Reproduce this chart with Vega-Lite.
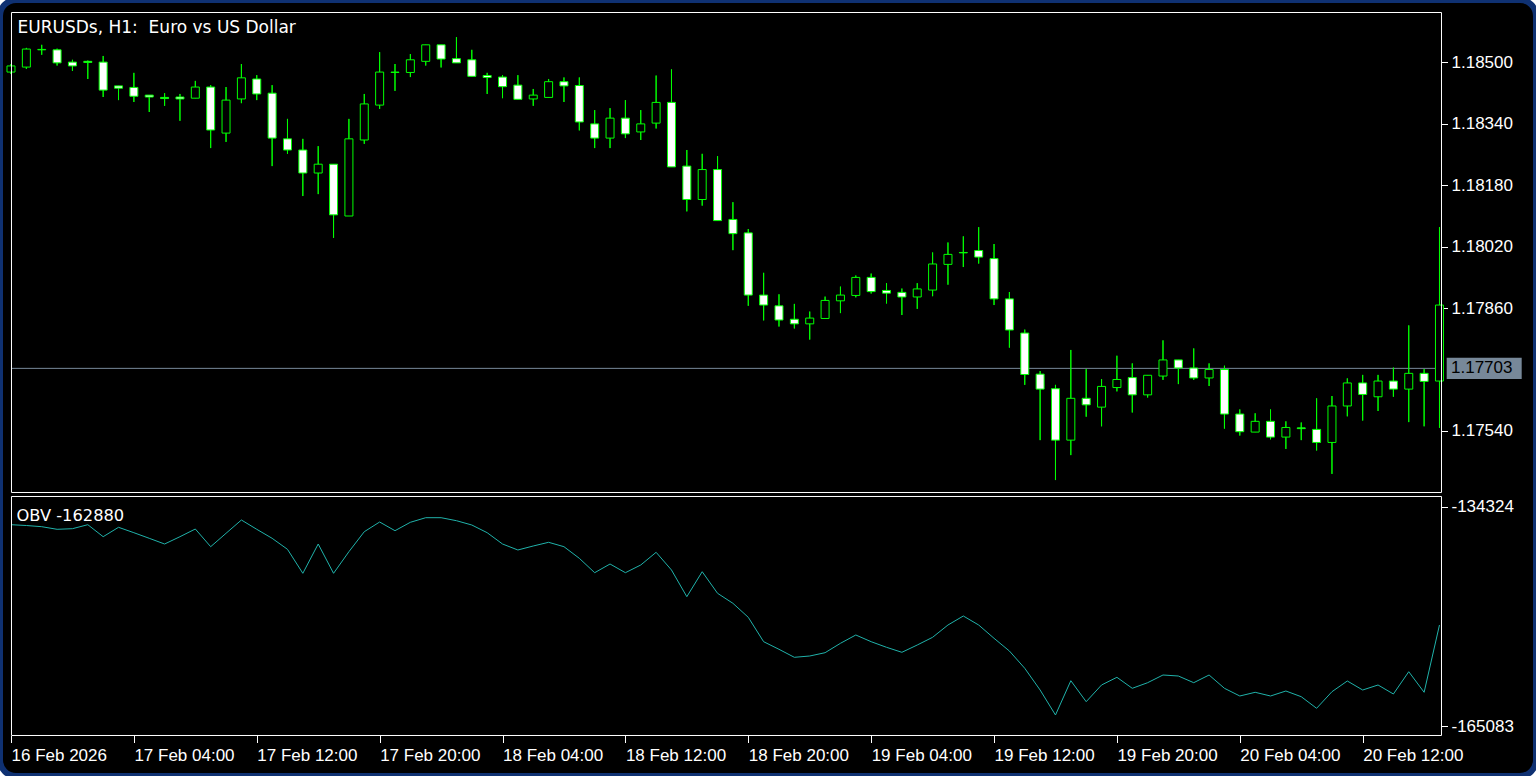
{
  "$schema": "https://vega.github.io/schema/vega-lite/v6.json",
  "width": 1536,
  "height": 776,
  "autosize": "none",
  "padding": 0,
  "background": "#ffffff",
  "config": {
    "view": {"fill": "#000000", "stroke": "#0f3172", "strokeWidth": 6, "cornerRadius": 16}
  },
  "data": {"values": [
    {"t":"2026-02-16T20:00:00Z","open":1.18475,"high":1.18496,"low":1.18470,"close":1.18491,"obv":-136849},
    {"t":"2026-02-16T21:00:00Z","open":1.18488,"high":1.18538,"low":1.18483,"close":1.18535,"obv":-136961},
    {"t":"2026-02-16T22:00:00Z","open":1.18533,"high":1.18546,"low":1.18520,"close":1.18534,"obv":-137129},
    {"t":"2026-02-16T23:00:00Z","open":1.18533,"high":1.18536,"low":1.18492,"close":1.18499,"obv":-137494},
    {"t":"2026-02-17T00:00:00Z","open":1.18501,"high":1.18507,"low":1.18478,"close":1.18491,"obv":-137410},
    {"t":"2026-02-17T01:00:00Z","open":1.18503,"high":1.18505,"low":1.18457,"close":1.18500,"obv":-136849},
    {"t":"2026-02-17T02:00:00Z","open":1.18501,"high":1.18517,"low":1.18410,"close":1.18428,"obv":-138532},
    {"t":"2026-02-17T03:00:00Z","open":1.18439,"high":1.18439,"low":1.18402,"close":1.18433,"obv":-137213},
    {"t":"2026-02-17T04:00:00Z","open":1.18435,"high":1.18473,"low":1.18397,"close":1.18412,"obv":-137971},
    {"t":"2026-02-17T05:00:00Z","open":1.18415,"high":1.18415,"low":1.18371,"close":1.18410,"obv":-138756},
    {"t":"2026-02-17T06:00:00Z","open":1.18409,"high":1.18420,"low":1.18387,"close":1.18406,"obv":-139556},
    {"t":"2026-02-17T07:00:00Z","open":1.18410,"high":1.18418,"low":1.18348,"close":1.18405,"obv":-138532},
    {"t":"2026-02-17T08:00:00Z","open":1.18407,"high":1.18452,"low":1.18407,"close":1.18436,"obv":-137452},
    {"t":"2026-02-17T09:00:00Z","open":1.18436,"high":1.18441,"low":1.18277,"close":1.18324,"obv":-139934},
    {"t":"2026-02-17T10:00:00Z","open":1.18316,"high":1.18436,"low":1.18293,"close":1.18402,"obv":-138055},
    {"t":"2026-02-17T11:00:00Z","open":1.18405,"high":1.18496,"low":1.18394,"close":1.18460,"obv":-136189},
    {"t":"2026-02-17T12:00:00Z","open":1.18457,"high":1.18467,"low":1.18402,"close":1.18418,"obv":-137494},
    {"t":"2026-02-17T13:00:00Z","open":1.18420,"high":1.18441,"low":1.18230,"close":1.18303,"obv":-138756},
    {"t":"2026-02-17T14:00:00Z","open":1.18301,"high":1.18353,"low":1.18262,"close":1.18272,"obv":-140299},
    {"t":"2026-02-17T15:00:00Z","open":1.18272,"high":1.18301,"low":1.18152,"close":1.18212,"obv":-143665},
    {"t":"2026-02-17T16:00:00Z","open":1.18212,"high":1.18282,"low":1.18157,"close":1.18235,"obv":-139556},
    {"t":"2026-02-17T17:00:00Z","open":1.18235,"high":1.18235,"low":1.18043,"close":1.18103,"obv":-143665},
    {"t":"2026-02-17T18:00:00Z","open":1.18100,"high":1.18353,"low":1.18100,"close":1.18301,"obv":-140636},
    {"t":"2026-02-17T19:00:00Z","open":1.18298,"high":1.18418,"low":1.18288,"close":1.18392,"obv":-137831},
    {"t":"2026-02-17T20:00:00Z","open":1.18389,"high":1.18527,"low":1.18379,"close":1.18475,"obv":-136470},
    {"t":"2026-02-17T21:00:00Z","open":1.18475,"high":1.18496,"low":1.18426,"close":1.18474,"obv":-137690},
    {"t":"2026-02-17T22:00:00Z","open":1.18474,"high":1.18522,"low":1.18462,"close":1.18507,"obv":-136512},
    {"t":"2026-02-17T23:00:00Z","open":1.18503,"high":1.18546,"low":1.18492,"close":1.18546,"obv":-135867},
    {"t":"2026-02-18T00:00:00Z","open":1.18546,"high":1.18546,"low":1.18487,"close":1.18509,"obv":-135867},
    {"t":"2026-02-18T01:00:00Z","open":1.18510,"high":1.18566,"low":1.18499,"close":1.18499,"obv":-136288},
    {"t":"2026-02-18T02:00:00Z","open":1.18507,"high":1.18533,"low":1.18464,"close":1.18464,"obv":-136891},
    {"t":"2026-02-18T03:00:00Z","open":1.18466,"high":1.18473,"low":1.18418,"close":1.18461,"obv":-137971},
    {"t":"2026-02-18T04:00:00Z","open":1.18462,"high":1.18467,"low":1.18407,"close":1.18437,"obv":-139556},
    {"t":"2026-02-18T05:00:00Z","open":1.18441,"high":1.18467,"low":1.18404,"close":1.18404,"obv":-140397},
    {"t":"2026-02-18T06:00:00Z","open":1.18405,"high":1.18431,"low":1.18387,"close":1.18415,"obv":-139836},
    {"t":"2026-02-18T07:00:00Z","open":1.18409,"high":1.18457,"low":1.18409,"close":1.18450,"obv":-139317},
    {"t":"2026-02-18T08:00:00Z","open":1.18450,"high":1.18461,"low":1.18397,"close":1.18439,"obv":-139934},
    {"t":"2026-02-18T09:00:00Z","open":1.18440,"high":1.18461,"low":1.18323,"close":1.18345,"obv":-141561},
    {"t":"2026-02-18T10:00:00Z","open":1.18340,"high":1.18376,"low":1.18277,"close":1.18303,"obv":-143581},
    {"t":"2026-02-18T11:00:00Z","open":1.18303,"high":1.18381,"low":1.18277,"close":1.18355,"obv":-142361},
    {"t":"2026-02-18T12:00:00Z","open":1.18355,"high":1.18402,"low":1.18303,"close":1.18314,"obv":-143581},
    {"t":"2026-02-18T13:00:00Z","open":1.18319,"high":1.18376,"low":1.18298,"close":1.18340,"obv":-142501},
    {"t":"2026-02-18T14:00:00Z","open":1.18342,"high":1.18466,"low":1.18328,"close":1.18396,"obv":-140720},
    {"t":"2026-02-18T15:00:00Z","open":1.18396,"high":1.18482,"low":1.18228,"close":1.18228,"obv":-143202},
    {"t":"2026-02-18T16:00:00Z","open":1.18230,"high":1.18272,"low":1.18112,"close":1.18143,"obv":-146947},
    {"t":"2026-02-18T17:00:00Z","open":1.18143,"high":1.18262,"low":1.18127,"close":1.18221,"obv":-143441},
    {"t":"2026-02-18T18:00:00Z","open":1.18221,"high":1.18256,"low":1.18088,"close":1.18088,"obv":-146471},
    {"t":"2026-02-18T19:00:00Z","open":1.18091,"high":1.18136,"low":1.18011,"close":1.18054,"obv":-147873},
    {"t":"2026-02-18T20:00:00Z","open":1.18056,"high":1.18066,"low":1.17866,"close":1.17894,"obv":-149837},
    {"t":"2026-02-18T21:00:00Z","open":1.17894,"high":1.17952,"low":1.17828,"close":1.17868,"obv":-153259},
    {"t":"2026-02-18T22:00:00Z","open":1.17866,"high":1.17896,"low":1.17812,"close":1.17829,"obv":-154325},
    {"t":"2026-02-18T23:00:00Z","open":1.17831,"high":1.17871,"low":1.17807,"close":1.17819,"obv":-155447},
    {"t":"2026-02-19T00:00:00Z","open":1.17819,"high":1.17851,"low":1.17778,"close":1.17834,"obv":-155265},
    {"t":"2026-02-19T01:00:00Z","open":1.17833,"high":1.17890,"low":1.17833,"close":1.17880,"obv":-154802},
    {"t":"2026-02-19T02:00:00Z","open":1.17879,"high":1.17916,"low":1.17847,"close":1.17894,"obv":-153484},
    {"t":"2026-02-19T03:00:00Z","open":1.17893,"high":1.17945,"low":1.17888,"close":1.17940,"obv":-152319},
    {"t":"2026-02-19T04:00:00Z","open":1.17940,"high":1.17950,"low":1.17898,"close":1.17903,"obv":-153259},
    {"t":"2026-02-19T05:00:00Z","open":1.17906,"high":1.17925,"low":1.17872,"close":1.17899,"obv":-154045},
    {"t":"2026-02-19T06:00:00Z","open":1.17901,"high":1.17911,"low":1.17842,"close":1.17889,"obv":-154746},
    {"t":"2026-02-19T07:00:00Z","open":1.17889,"high":1.17925,"low":1.17858,"close":1.17910,"obv":-153722},
    {"t":"2026-02-19T08:00:00Z","open":1.17907,"high":1.18005,"low":1.17891,"close":1.17975,"obv":-152642},
    {"t":"2026-02-19T09:00:00Z","open":1.17974,"high":1.18031,"low":1.17921,"close":1.18000,"obv":-150917},
    {"t":"2026-02-19T10:00:00Z","open":1.18005,"high":1.18047,"low":1.17967,"close":1.18004,"obv":-149654},
    {"t":"2026-02-19T11:00:00Z","open":1.18010,"high":1.18071,"low":1.17976,"close":1.17993,"obv":-150917},
    {"t":"2026-02-19T12:00:00Z","open":1.17989,"high":1.18027,"low":1.17868,"close":1.17884,"obv":-152782},
    {"t":"2026-02-19T13:00:00Z","open":1.17884,"high":1.17902,"low":1.17757,"close":1.17803,"obv":-154564},
    {"t":"2026-02-19T14:00:00Z","open":1.17795,"high":1.17804,"low":1.17660,"close":1.17687,"obv":-156990},
    {"t":"2026-02-19T15:00:00Z","open":1.17688,"high":1.17696,"low":1.17516,"close":1.17649,"obv":-160034},
    {"t":"2026-02-19T16:00:00Z","open":1.17650,"high":1.17660,"low":1.17412,"close":1.17516,"obv":-163540},
    {"t":"2026-02-19T17:00:00Z","open":1.17516,"high":1.17751,"low":1.17477,"close":1.17625,"obv":-158729},
    {"t":"2026-02-19T18:00:00Z","open":1.17625,"high":1.17701,"low":1.17577,"close":1.17608,"obv":-161675},
    {"t":"2026-02-19T19:00:00Z","open":1.17602,"high":1.17675,"low":1.17552,"close":1.17656,"obv":-159332},
    {"t":"2026-02-19T20:00:00Z","open":1.17653,"high":1.17736,"low":1.17643,"close":1.17674,"obv":-158252},
    {"t":"2026-02-19T21:00:00Z","open":1.17679,"high":1.17716,"low":1.17588,"close":1.17634,"obv":-159795},
    {"t":"2026-02-19T22:00:00Z","open":1.17634,"high":1.17685,"low":1.17627,"close":1.17685,"obv":-159010},
    {"t":"2026-02-19T23:00:00Z","open":1.17683,"high":1.17776,"low":1.17673,"close":1.17725,"obv":-157930},
    {"t":"2026-02-20T00:00:00Z","open":1.17725,"high":1.17725,"low":1.17662,"close":1.17704,"obv":-158070},
    {"t":"2026-02-20T01:00:00Z","open":1.17704,"high":1.17755,"low":1.17673,"close":1.17678,"obv":-159010},
    {"t":"2026-02-20T02:00:00Z","open":1.17678,"high":1.17716,"low":1.17657,"close":1.17700,"obv":-157930},
    {"t":"2026-02-20T03:00:00Z","open":1.17700,"high":1.17710,"low":1.17546,"close":1.17584,"obv":-159795},
    {"t":"2026-02-20T04:00:00Z","open":1.17584,"high":1.17596,"low":1.17528,"close":1.17538,"obv":-160875},
    {"t":"2026-02-20T05:00:00Z","open":1.17537,"high":1.17586,"low":1.17537,"close":1.17565,"obv":-160356},
    {"t":"2026-02-20T06:00:00Z","open":1.17565,"high":1.17596,"low":1.17518,"close":1.17524,"obv":-160875},
    {"t":"2026-02-20T07:00:00Z","open":1.17524,"high":1.17565,"low":1.17493,"close":1.17549,"obv":-160174},
    {"t":"2026-02-20T08:00:00Z","open":1.17548,"high":1.17562,"low":1.17516,"close":1.17546,"obv":-160973},
    {"t":"2026-02-20T09:00:00Z","open":1.17544,"high":1.17625,"low":1.17489,"close":1.17510,"obv":-162600},
    {"t":"2026-02-20T10:00:00Z","open":1.17510,"high":1.17631,"low":1.17428,"close":1.17605,"obv":-160272},
    {"t":"2026-02-20T11:00:00Z","open":1.17605,"high":1.17677,"low":1.17578,"close":1.17665,"obv":-158771},
    {"t":"2026-02-20T12:00:00Z","open":1.17665,"high":1.17686,"low":1.17567,"close":1.17635,"obv":-160034},
    {"t":"2026-02-20T13:00:00Z","open":1.17629,"high":1.17686,"low":1.17592,"close":1.17670,"obv":-159332},
    {"t":"2026-02-20T14:00:00Z","open":1.17670,"high":1.17705,"low":1.17629,"close":1.17649,"obv":-160595},
    {"t":"2026-02-20T15:00:00Z","open":1.17649,"high":1.17815,"low":1.17563,"close":1.17690,"obv":-157467},
    {"t":"2026-02-20T16:00:00Z","open":1.17690,"high":1.17701,"low":1.17552,"close":1.17669,"obv":-160356},
    {"t":"2026-02-20T17:00:00Z","open":1.17670,"high":1.18071,"low":1.17548,"close":1.17868,"obv":-150917}
  ]},
  "resolve": {"scale": {"y": "independent"}, "axis": {"y": "independent"}},
  "layer": [
    {
      "layer": [
        {
          "mark": {"type": "rule", "color": "#00ff00", "strokeWidth": 1},
          "encoding": {
            "x": {"field": "t", "type": "temporal",
                  "scale": {"type":"utc","padding":0,"domain":[{"year":2026,"month":2,"date":16,"hours":19,"minutes":17,"seconds":2,"utc":true},{"year":2026,"month":2,"date":20,"hours":23,"minutes":17,"seconds":2,"utc":true}]}},
            "y": {"field": "low", "type": "quantitative", "scale": {"domain": [1.166409, 1.186628], "zero": false, "nice": false},
                  "axis": {"orient": "right", "offset": -94.5, "values": [1.185, 1.1834, 1.1818, 1.1802, 1.1786, 1.1754], "format": ".5f",
                           "domain": false, "grid": false, "ticks": true, "tickColor": "#ffffff", "tickSize": 6, "tickWidth": 1,
                           "labelColor": "#ffffff", "labelFont": "Liberation Sans", "labelFontSize": 17, "labelPadding": 3.5,
                           "labelAlign": "left", "labelBaseline": "middle", "labelOverlap": false, "labelBound": false, "labelFlush": false, "title": null}},
            "y2": {"field": "high"}
          }
        },
        {
          "data": {"values": [{"price": 1.17703, "label": "1.17703"}]},
          "mark": {"type": "rule", "color": "#778899", "strokeWidth": 1},
          "encoding": {
            "x": {"datum": {"year":2026,"month":2,"date":16,"hours":20,"minutes":1,"seconds":57,"utc":true}, "type": "temporal",
                  "scale": {"type":"utc","padding":0,"domain":[{"year":2026,"month":2,"date":16,"hours":19,"minutes":17,"seconds":2,"utc":true},{"year":2026,"month":2,"date":20,"hours":23,"minutes":17,"seconds":2,"utc":true}]}},
            "x2": {"datum": {"year":2026,"month":2,"date":20,"hours":17,"minutes":7,"seconds":53,"utc":true}},
            "y": {"field": "price", "type": "quantitative", "scale": {"domain": [1.166409, 1.186628], "zero": false, "nice": false}}
          }
        },
        {
          "mark": {"type": "rule", "color": "#00ff00", "strokeWidth": 1},
          "encoding": {
            "x": {"field": "t", "type": "temporal",
                  "scale": {"type":"utc","padding":0,"domain":[{"year":2026,"month":2,"date":16,"hours":19,"minutes":17,"seconds":2,"utc":true},{"year":2026,"month":2,"date":20,"hours":23,"minutes":17,"seconds":2,"utc":true}]}},
            "y": {"field": "low", "type": "quantitative", "scale": {"domain": [1.166409, 1.186628], "zero": false, "nice": false}},
            "y2": {"field": "high"}
          }
        },
        {
          "mark": {"type": "bar", "width": 8, "stroke": "#00ff00", "strokeWidth": 1},
          "encoding": {
            "x": {"field": "t", "type": "temporal",
                  "scale": {"type":"utc","padding":0,"domain":[{"year":2026,"month":2,"date":16,"hours":19,"minutes":17,"seconds":2,"utc":true},{"year":2026,"month":2,"date":20,"hours":23,"minutes":17,"seconds":2,"utc":true}]}},
            "y": {"field": "open", "type": "quantitative", "scale": {"domain": [1.166409, 1.186628], "zero": false, "nice": false}},
            "y2": {"field": "close"},
            "fill": {"condition": {"test": "datum.close > datum.open", "value": "#000000"}, "value": "#ffffff"}
          }
        },
        {
          "data": {"values": [{"panel": "price"}]},
          "mark": {"type": "rect", "filled": false, "color": "#ffffff", "strokeWidth": 1},
          "encoding": {
            "x": {"datum": {"year":2026,"month":2,"date":16,"hours":20,"minutes":1,"seconds":57,"utc":true}, "type": "temporal",
                  "scale": {"type":"utc","padding":0,"domain":[{"year":2026,"month":2,"date":16,"hours":19,"minutes":17,"seconds":2,"utc":true},{"year":2026,"month":2,"date":20,"hours":23,"minutes":17,"seconds":2,"utc":true}]}},
            "x2": {"datum": {"year":2026,"month":2,"date":20,"hours":17,"minutes":7,"seconds":53,"utc":true}},
            "y": {"datum": 1.186302, "type": "quantitative", "scale": {"domain": [1.166409, 1.186628], "zero": false, "nice": false}},
            "y2": {"datum": 1.173796}
          }
        },
        {
          "data": {"values": [{"price": 1.17703, "label": "1.17703"}]},
          "mark": {"type": "point", "shape": "M0.486,-1L7.495,-1L7.495,1L0.486,1Z", "size": 458, "filled": true, "fill": "#778899", "opacity": 1, "strokeWidth": 0},
          "encoding": {
            "x": {"datum": {"year":2026,"month":2,"date":20,"hours":17,"minutes":7,"seconds":53,"utc":true}, "type": "temporal",
                  "scale": {"type":"utc","padding":0,"domain":[{"year":2026,"month":2,"date":16,"hours":19,"minutes":17,"seconds":2,"utc":true},{"year":2026,"month":2,"date":20,"hours":23,"minutes":17,"seconds":2,"utc":true}]}},
            "y": {"field": "price", "type": "quantitative", "scale": {"domain": [1.166409, 1.186628], "zero": false, "nice": false}}
          }
        },
        {
          "data": {"values": [{"price": 1.17703, "label": "1.17703"}]},
          "mark": {"type": "text", "align": "left", "baseline": "middle", "dx": 9.5, "font": "Liberation Sans", "fontSize": 17, "color": "#000000"},
          "encoding": {
            "x": {"datum": {"year":2026,"month":2,"date":20,"hours":17,"minutes":7,"seconds":53,"utc":true}, "type": "temporal",
                  "scale": {"type":"utc","padding":0,"domain":[{"year":2026,"month":2,"date":16,"hours":19,"minutes":17,"seconds":2,"utc":true},{"year":2026,"month":2,"date":20,"hours":23,"minutes":17,"seconds":2,"utc":true}]}},
            "y": {"field": "price", "type": "quantitative", "scale": {"domain": [1.166409, 1.186628], "zero": false, "nice": false}},
            "text": {"field": "label"}
          }
        },
        {
          "data": {"values": [{"label": "EURUSDs, H1:\u00a0 Euro vs US Dollar"}]},
          "mark": {"type": "text", "align": "left", "baseline": "alphabetic", "dx": 6, "dy": 20.2, "font": "DejaVu Sans", "fontSize": 17, "color": "#ffffff"},
          "encoding": {
            "x": {"datum": {"year":2026,"month":2,"date":16,"hours":20,"minutes":1,"seconds":57,"utc":true}, "type": "temporal",
                  "scale": {"type":"utc","padding":0,"domain":[{"year":2026,"month":2,"date":16,"hours":19,"minutes":17,"seconds":2,"utc":true},{"year":2026,"month":2,"date":20,"hours":23,"minutes":17,"seconds":2,"utc":true}]}},
            "y": {"datum": 1.186302, "type": "quantitative", "scale": {"domain": [1.166409, 1.186628], "zero": false, "nice": false}},
            "text": {"field": "label"}
          }
        }
      ]
    },
    {
      "layer": [
        {
          "mark": {"type": "line", "color": "#20b2aa", "strokeWidth": 1},
          "encoding": {
            "x": {"field": "t", "type": "temporal",
                  "scale": {"type":"utc","padding":0,"domain":[{"year":2026,"month":2,"date":16,"hours":19,"minutes":17,"seconds":2,"utc":true},{"year":2026,"month":2,"date":20,"hours":23,"minutes":17,"seconds":2,"utc":true}]},
                  "axis": {"orient": "bottom", "offset": -40.5,
                           "values": [
                             {"year":2026,"month":2,"date":16,"hours":20,"utc":true},
                             {"year":2026,"month":2,"date":17,"hours":4,"utc":true},
                             {"year":2026,"month":2,"date":17,"hours":12,"utc":true},
                             {"year":2026,"month":2,"date":17,"hours":20,"utc":true},
                             {"year":2026,"month":2,"date":18,"hours":4,"utc":true},
                             {"year":2026,"month":2,"date":18,"hours":12,"utc":true},
                             {"year":2026,"month":2,"date":18,"hours":20,"utc":true},
                             {"year":2026,"month":2,"date":19,"hours":4,"utc":true},
                             {"year":2026,"month":2,"date":19,"hours":12,"utc":true},
                             {"year":2026,"month":2,"date":19,"hours":20,"utc":true},
                             {"year":2026,"month":2,"date":20,"hours":4,"utc":true},
                             {"year":2026,"month":2,"date":20,"hours":12,"utc":true}
                           ],
                           "labelExpr": "utcFormat(datum.value, '%d %b %H:%M') === '16 Feb 20:00' ? '16 Feb 2026' : utcFormat(datum.value, '%d %b %H:%M')",
                           "domain": false, "grid": false, "ticks": true, "tickColor": "#ffffff", "tickSize": 7, "tickWidth": 1,
                           "labelColor": "#ffffff", "labelFont": "Liberation Sans", "labelFontSize": 17, "labelPadding": 5,
                           "labelAlign": "left", "labelBaseline": "top", "labelOverlap": false, "labelBound": false, "labelFlush": false, "title": null}},
            "y": {"field": "obv", "type": "quantitative", "scale": {"domain": [-172096, -63254], "zero": false, "nice": false},
                  "axis": {"orient": "right", "offset": -94.5, "values": [-134324, -165083],
                           "labelExpr": "'-' + format(abs(datum.value), 'd')",
                           "domain": false, "grid": false, "ticks": true, "tickColor": "#ffffff", "tickSize": 6, "tickWidth": 1,
                           "labelColor": "#ffffff", "labelFont": "Liberation Sans", "labelFontSize": 17, "labelPadding": 3.5,
                           "labelAlign": "left", "labelBaseline": "middle", "labelOverlap": false, "labelBound": false, "labelFlush": false, "title": null}}
          }
        },
        {
          "data": {"values": [{"panel": "obv"}]},
          "mark": {"type": "rect", "filled": false, "color": "#ffffff", "strokeWidth": 1},
          "encoding": {
            "x": {"datum": {"year":2026,"month":2,"date":16,"hours":20,"minutes":1,"seconds":57,"utc":true}, "type": "temporal",
                  "scale": {"type":"utc","padding":0,"domain":[{"year":2026,"month":2,"date":16,"hours":19,"minutes":17,"seconds":2,"utc":true},{"year":2026,"month":2,"date":20,"hours":23,"minutes":17,"seconds":2,"utc":true}]}},
            "x2": {"datum": {"year":2026,"month":2,"date":20,"hours":17,"minutes":7,"seconds":53,"utc":true}},
            "y": {"datum": -132893, "type": "quantitative", "scale": {"domain": [-172096, -63254], "zero": false, "nice": false}},
            "y2": {"datum": -166415}
          }
        },
        {
          "data": {"values": [{"label": "OBV -162880"}]},
          "mark": {"type": "text", "align": "left", "baseline": "alphabetic", "dx": 4.9, "dy": 24.2, "font": "DejaVu Sans", "fontSize": 16.3, "color": "#ffffff"},
          "encoding": {
            "x": {"datum": {"year":2026,"month":2,"date":16,"hours":20,"minutes":1,"seconds":57,"utc":true}, "type": "temporal",
                  "scale": {"type":"utc","padding":0,"domain":[{"year":2026,"month":2,"date":16,"hours":19,"minutes":17,"seconds":2,"utc":true},{"year":2026,"month":2,"date":20,"hours":23,"minutes":17,"seconds":2,"utc":true}]}},
            "y": {"datum": -132893, "type": "quantitative", "scale": {"domain": [-172096, -63254], "zero": false, "nice": false}},
            "text": {"field": "label"}
          }
        }
      ]
    }
  ]
}
